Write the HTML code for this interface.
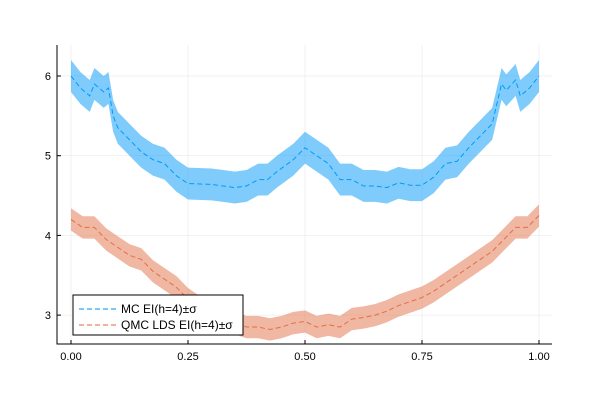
<!DOCTYPE html>
<html><head><meta charset="utf-8"><style>
body{margin:0;background:#fff}
svg{font-family:"Liberation Sans",sans-serif}
</style></head><body>
<svg id="c" width="600" height="400" xmlns="http://www.w3.org/2000/svg"></svg>
<script>
const mcX=[0,0.02,0.04,0.05,0.07,0.08,0.09,0.1,0.125,0.15,0.175,0.2,0.225,0.25,0.3,0.325,0.35,0.375,0.4,0.42,0.44,0.475,0.5,0.525,0.55,0.575,0.6,0.625,0.65,0.675,0.7,0.725,0.75,0.775,0.8,0.825,0.85,0.875,0.9,0.92,0.93,0.95,0.96,0.98,1.0];
const mcY=[6.0,5.85,5.75,5.9,5.8,5.85,5.5,5.35,5.2,5.05,4.95,4.9,4.75,4.65,4.64,4.62,4.6,4.62,4.7,4.7,4.8,4.95,5.1,5.0,4.9,4.7,4.7,4.62,4.62,4.6,4.66,4.63,4.63,4.73,4.9,4.93,5.1,5.25,5.4,5.9,5.82,5.95,5.75,5.85,6.0];
const mcSigma=0.2;
const qX=[0,0.025,0.05,0.075,0.1,0.125,0.15,0.175,0.2,0.225,0.25,0.275,0.3,0.325,0.35,0.375,0.4,0.425,0.45,0.475,0.5,0.525,0.55,0.575,0.6,0.625,0.65,0.675,0.7,0.725,0.75,0.775,0.8,0.825,0.85,0.875,0.9,0.925,0.95,0.975,1.0];
const qY=[4.2,4.1,4.1,3.95,3.85,3.75,3.7,3.55,3.45,3.35,3.2,3.1,3.0,2.95,2.9,2.85,2.85,2.82,2.85,2.9,2.92,2.85,2.88,2.85,2.95,2.97,3.0,3.05,3.12,3.17,3.22,3.3,3.4,3.5,3.6,3.7,3.8,3.95,4.1,4.1,4.25];
const qSigma=0.14;
const xTicks=[0,0.25,0.5,0.75,1.0];
const xTickLabels=["0.00","0.25","0.50","0.75","1.00"];
const yTicks=[3,4,5,6];
const yTickLabels=["3","4","5","6"];

const L=57,R=552,T=45,B=344;
const sx=v=>71+468*v;
const sy=v=>76+(6-v)*79.7;
const svg=document.getElementById('c');
const NS='http://www.w3.org/2000/svg';
function mk(t,a,p){const e=document.createElementNS(NS,t);for(const k in a)e.setAttribute(k,a[k]);(p||svg).appendChild(e);return e;}

xTicks.forEach((v,i)=>{
 const g=mk('line',{x1:sx(v),x2:sx(v),y1:T,y2:B,stroke:'#000','stroke-opacity':0.1,'stroke-width':0.5});
 
 
 const tk=mk('line',{x1:sx(v),x2:sx(v),y1:B,y2:B-4,stroke:'#000','stroke-width':1});
 
 
 const t=mk('text',{x:sx(v),y:B+16,'text-anchor':'middle','font-size':11});
 t.textContent=xTickLabels[i];
 
 
});
yTicks.forEach((v,i)=>{
 const g=mk('line',{x1:L,x2:R,y1:sy(v),y2:sy(v),stroke:'#000','stroke-opacity':0.1,'stroke-width':0.5});
 
 
 const tk=mk('line',{x1:L,x2:L+4,y1:sy(v),y2:sy(v),stroke:'#000','stroke-width':1});
 
 
 const t=mk('text',{x:L-6,y:sy(v)+4,'text-anchor':'end','font-size':11});
 t.textContent=yTickLabels[i];
 
 
});

function series(xs,ys,s,col,name){
 let up=xs.map((x,i)=>sx(x)+','+sy(ys[i]+s));
 let dn=xs.map((x,i)=>sx(x)+','+sy(ys[i]-s)).reverse();
 const band=mk('polygon',{points:up.concat(dn).join(' '),fill:col,'fill-opacity':0.5,stroke:'none'});
 
 
 const ln=mk('polyline',{points:xs.map((x,i)=>sx(x)+','+sy(ys[i])).join(' '),fill:'none',stroke:col,'stroke-width':1,'stroke-dasharray':'5,3'});
 
 
}
series(mcX,mcY,mcSigma,'#009AFA','mc');
series(qX,qY,qSigma,'#E26F46','qmc');

const ax=mk('path',{d:`M${L},${T} L${L},${B} L${R},${B}`,fill:'none',stroke:'#000','stroke-width':1});



const lg=mk('g',{});


mk('rect',{x:73,y:295,width:170,height:40,fill:'#fff',stroke:'#000','stroke-width':1},lg);
[['#009AFA','MC EI(h=4)±σ',309],['#E26F46','QMC LDS EI(h=4)±σ',325]].forEach(([c,txt,y],i)=>{
 const e=mk('line',{x1:79,x2:117,y1:y,y2:y,stroke:c,'stroke-width':1.5,'stroke-dasharray':'5,3','stroke-opacity':0.7},lg);
 
 
 const t=mk('text',{x:121,y:y+4,'font-size':12},lg);
 t.textContent=txt;
 
 
});
</script>
</body></html>
